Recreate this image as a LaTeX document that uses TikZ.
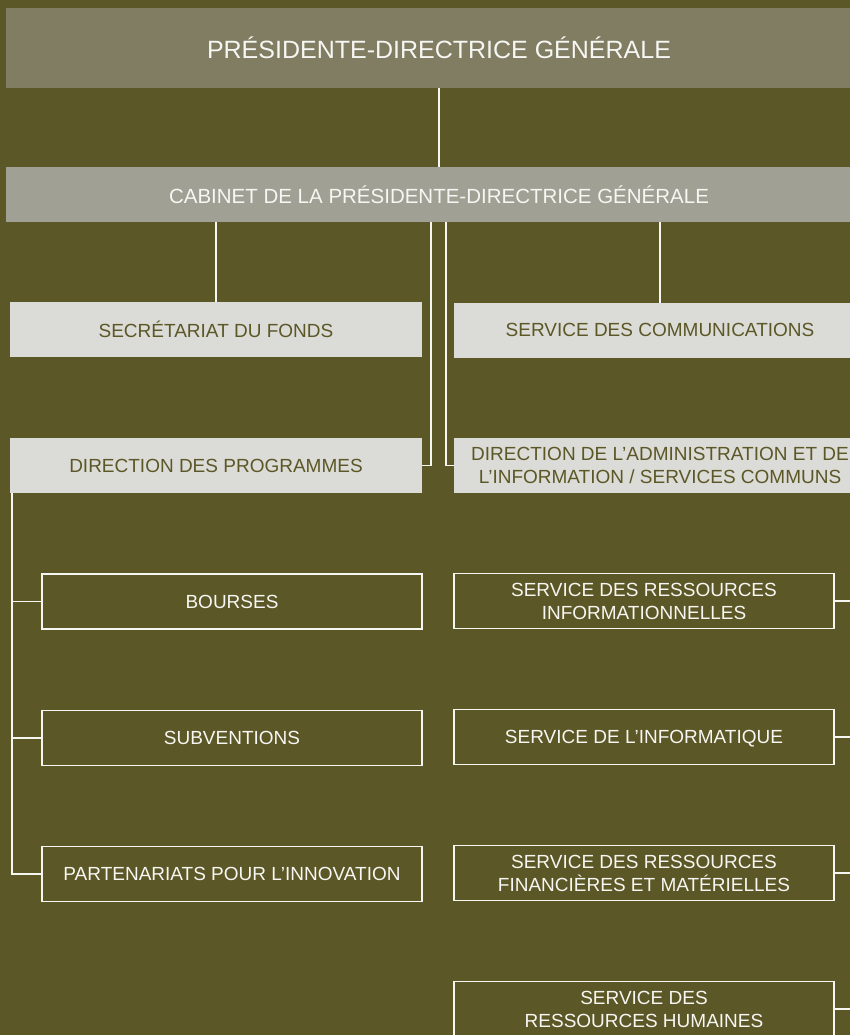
\documentclass[tikz,border=0pt]{standalone}
\usepackage{fontspec}
\setmainfont{Liberation Sans}
\usepackage{xcolor}
\usetikzlibrary{positioning}

\definecolor{bgolive}{RGB}{92,87,38}
\definecolor{headgray}{RGB}{128,125,99}
\definecolor{cabgray}{RGB}{161,160,148}
\definecolor{palegray}{RGB}{219,219,215}
\definecolor{paper}{RGB}{246,246,242}

\begin{document}
\begin{tikzpicture}[x=1bp, y=-1bp, line width=1.9bp, draw=paper,
    head/.style={fill=headgray, text=paper, inner sep=0pt, outer sep=0pt},
    direction/.style={fill=palegray, text=bgolive, inner sep=0pt, outer sep=0pt,
        minimum width=412bp, minimum height=55bp, align=center,
        font=\fontsize{19bp}{23bp}\selectfont},
    service/.style={draw=paper, line width=1.2bp, text=paper, inner sep=0pt, outer sep=0pt,
        minimum width=380bp, minimum height=55bp, align=center,
        font=\fontsize{19bp}{23bp}\selectfont}]

    % Page
    \useasboundingbox (0,0) rectangle (850,1035);
    \clip (0,0) rectangle (850,1035);
    \fill[bgolive] (0,0) rectangle (850,1035);

    % Nodes
    \node (pdg) at (439,48) [head, minimum width=866bp, minimum height=80bp,
        font=\fontsize{25bp}{30bp}\selectfont] {PRÉSIDENTE-DIRECTRICE GÉNÉRALE};
    \node (cab) at (439,194.5) [head, fill=cabgray, minimum width=866bp, minimum height=55bp,
        font=\fontsize{20.5bp}{24bp}\selectfont] {CABINET DE LA PRÉSIDENTE-DIRECTRICE GÉNÉRALE};

    \node (sec) at (216,329.5) [direction] {SECRÉTARIAT DU FONDS};
    \node (com) at (660,330) [direction] {SERVICE DES COMMUNICATIONS};
    \node (dp) at (216,465.5) [direction] {DIRECTION DES PROGRAMMES};
    \node (dai) at (660,465.5) [direction] {DIRECTION DE L’ADMINISTRATION ET DE\\L’INFORMATION / SERVICES COMMUNS};

    \node (bou) at (232,601.5) [service] {BOURSES};
    \node (sub) at (232,738) [service] {SUBVENTIONS};
    \node (par) at (232,874) [service] {PARTENARIATS POUR L’INNOVATION};

    \node (sri) at (644,601) [service] {SERVICE DES RESSOURCES\\INFORMATIONNELLES};
    \node (sinf) at (644,737) [service, text depth=0pt] {SERVICE DE L’INFORMATIQUE};
    \node (srfm) at (644,873) [service] {SERVICE DES RESSOURCES\\FINANCIÈRES ET MATÉRIELLES};
    \node (srh) at (644,1009) [service] {SERVICE DES\\RESSOURCES HUMAINES};

    % Links
    \draw (pdg) -- (cab);
    \draw (cab.south -| sec.north) -- (sec.north);
    \draw (cab.south -| com.north) -- (com.north);
    \draw ([xshift=-8bp]cab.south) |- (dp.east);
    \draw ([xshift=7bp]cab.south) |- (dai.west);

    % Programmes
    \draw ([xshift=2bp]dp.south west) |- (par.west);
    \draw (bou.west) -- ++(-30bp,0);
    \draw (sub.west) -- ++(-30bp,0);

    % Services communs
    \draw (sri.east) -- ++(30bp,0);
    \draw (sinf.east) -- ++(30bp,0);
    \draw (srfm.east) -- ++(30bp,0);
    \draw (srh.east) -- ++(30bp,0);

\end{tikzpicture}
\end{document}
